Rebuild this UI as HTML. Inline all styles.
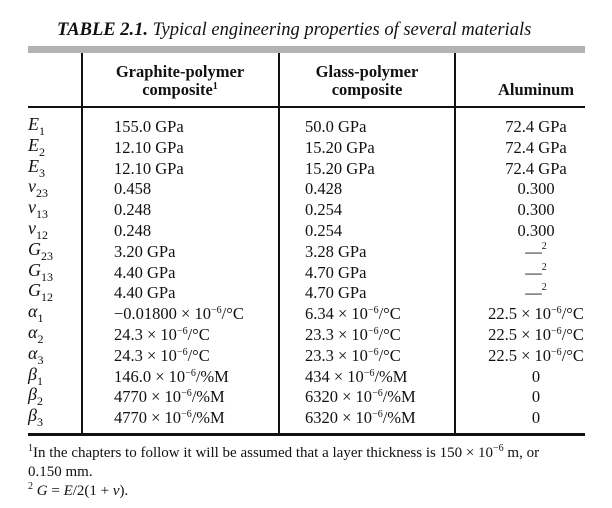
<!DOCTYPE html>
<html><head><meta charset="utf-8"><style>
body{margin:0;background:#fff;}
#page{position:relative;width:612px;height:508px;overflow:hidden;font-family:"Liberation Serif",serif;color:#111;}
.t{position:absolute;white-space:nowrap;font-size:16.5px;line-height:18px;}
.c{transform:translateX(-50%);}
.h{font-weight:bold;text-align:center;font-size:16.5px;}
sub{font-size:12px;vertical-align:-5px;font-style:normal;line-height:0;}
sup{font-size:10px;vertical-align:6px;line-height:0;}
.line{position:absolute;background:#111;}
.sym{font-style:italic;font-size:18px;}
.dash sup{vertical-align:8px;}
</style></head><body>
<div id="page">
<div class="t" style="left:57px;top:20px;font-size:18.5px;line-height:20px;"><b><i>TABLE 2.1.</i></b> <i>Typical engineering properties of several materials</i></div>
<div class="line" style="left:28px;top:46px;width:557px;height:7px;background:#b3b3b3;"></div>
<div class="line" style="left:28px;top:106px;width:557px;height:2px;"></div>
<div class="line" style="left:28px;top:433px;width:557px;height:3px;"></div>
<div class="line" style="left:81px;top:53px;width:2px;height:381px;"></div>
<div class="line" style="left:278px;top:53px;width:2px;height:381px;"></div>
<div class="line" style="left:454px;top:53px;width:2px;height:381px;"></div>
<div class="t h c" style="left:180px;top:63px;">Graphite-polymer<br>composite<sup>1</sup></div>
<div class="t h c" style="left:367px;top:63px;">Glass-polymer<br>composite</div>
<div class="t h c" style="left:536px;top:81px;">Aluminum</div>
<div id="rows"></div>
<div class="t" style="left:28px;top:444px;font-size:15px;line-height:19px;"><sup>1</sup>In the chapters to follow it will be assumed that a layer thickness is 150 × 10<sup>−6</sup> m, or<br>0.150 mm.<br><sup>2</sup> <i>G</i> = <i>E</i>/2(1 + <i>v</i>).</div>
</div>
<script>
const symbols=["E|1","E|2","E|3","v|23","v|13","v|12","G|23","G|13","G|12","α|1","α|2","α|3","β|1","β|2","β|3"];
const X6C="× 10<sup>−6</sup>/°C", X6M="× 10<sup>−6</sup>/%M";
const graphite=["155.0 GPa","12.10 GPa","12.10 GPa","0.458","0.248","0.248","3.20 GPa","4.40 GPa","4.40 GPa","−0.01800 "+X6C,"24.3 "+X6C,"24.3 "+X6C,"146.0 "+X6M,"4770 "+X6M,"4770 "+X6M];
const glass=["50.0 GPa","15.20 GPa","15.20 GPa","0.428","0.254","0.254","3.28 GPa","4.70 GPa","4.70 GPa","6.34 "+X6C,"23.3 "+X6C,"23.3 "+X6C,"434 "+X6M,"6320 "+X6M,"6320 "+X6M];
const aluminum=["72.4 GPa","72.4 GPa","72.4 GPa","0.300","0.300","0.300","<span class='dash'>—<sup>2</sup></span>","<span class='dash'>—<sup>2</sup></span>","<span class='dash'>—<sup>2</sup></span>","22.5 "+X6C,"22.5 "+X6C,"22.5 "+X6C,"0","0","0"];
const rows=document.getElementById('rows');
const top0=118, step=20.8;
symbols.forEach((s,i)=>{
  const y=top0+i*step;
  const [b,sub]=s.split('|');
  const a=document.createElement('div');a.className='t sym';a.style.left='28px';a.style.top=(y-3)+'px';
  a.innerHTML=b+'<sub>'+sub+'</sub>';
  
  
  rows.appendChild(a);
  const g=document.createElement('div');g.className='t';g.style.left='114px';g.style.top=y+'px';g.innerHTML=graphite[i];
  
  
  rows.appendChild(g);
  const l=document.createElement('div');l.className='t';l.style.left='305px';l.style.top=y+'px';l.innerHTML=glass[i];
  
  
  rows.appendChild(l);
  const m=document.createElement('div');m.className='t c';m.style.left='536px';m.style.top=y+'px';m.innerHTML=aluminum[i];
  
  
  rows.appendChild(m);
});
</script>
</body></html>
